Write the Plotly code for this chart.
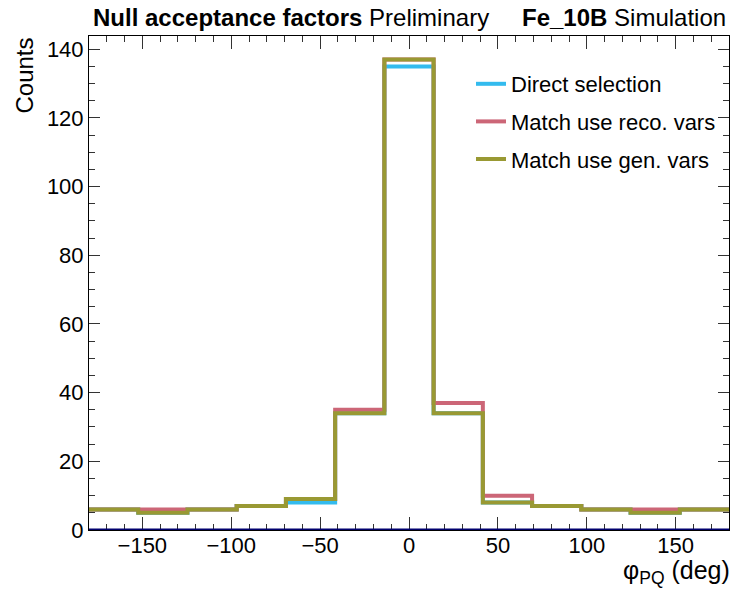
import numpy as np
import plotly.graph_objects as go

# ---- data ----
bin_edges = list(np.linspace(-180, 180, 14))
direct_sel = [6, 5, 6, 7, 8, 34, 135, 34, 8, 7, 6, 5, 6]
match_reco = [6, 6, 6, 7, 9, 35, 137, 37, 10, 7, 6, 6, 6]
match_gen = [6, 5, 6, 7, 9, 34, 137, 34, 8, 7, 6, 5, 6]
series_names = ["Direct selection", "Match use reco. vars", "Match use gen. vars"]
series_colors = ["#33BBEE", "#CC6677", "#999933"]

FONT = "Liberation Sans, Arial, Helvetica, sans-serif"

fig = go.Figure()
for name, vals, col in zip(series_names, [direct_sel, match_reco, match_gen], series_colors):
    fig.add_trace(go.Scatter(
        x=bin_edges, y=list(vals) + [vals[-1]],
        mode="lines", line=dict(color=col, width=4, shape="hv"),
        name=name, legendgroup=name,
    ))

# navy line at y=0
fig.add_shape(type="line", xref="x", yref="y", x0=-180, x1=180, y0=0, y1=0,
              line=dict(color="#00006e", width=3), layer="above")

axis_common = dict(
    showline=True, linecolor="black", linewidth=1, mirror="ticks",
    ticks="inside", tickcolor="#333333", tickwidth=1,
    showgrid=False, zeroline=False,
    tickfont=dict(family=FONT, size=22, color="black"),
)
fig.update_xaxes(range=[-180, 180], dtick=50, tick0=0, ticklen=13, ticklabelstandoff=-4,
                 minor=dict(ticks="inside", dtick=10, tick0=0, ticklen=6, tickcolor="#333333", showgrid=False),
                 **axis_common)
fig.update_yaxes(range=[0, 143.85], dtick=20, tick0=0, ticklen=11,
                 minor=dict(ticks="inside", dtick=5, tick0=0, ticklen=6, tickcolor="#333333", showgrid=False),
                 **axis_common)

annotations = [
    dict(text="<b>Null acceptance factors</b> Preliminary", xref="paper", yref="paper",
         x=(91 - 89) / 640, y=1, xanchor="left", yanchor="bottom", yshift=3, showarrow=False,
         font=dict(family=FONT, size=24, color="black")),
    dict(text="<b>Fe_10B</b> Simulation", xref="paper", yref="paper",
         x=(728 - 89) / 640, y=1, xanchor="right", yanchor="bottom", yshift=3, showarrow=False,
         font=dict(family=FONT, size=24, color="black")),
    dict(text="Counts", xref="paper", yref="paper", textangle=-90,
         x=0, xshift=-(89 - 8), xanchor="left", y=1, yanchor="top", showarrow=False,
         font=dict(family=FONT, size=24, color="black")),
    dict(text="φ<sub>PQ</sub> (deg)", xref="paper", yref="paper", borderpad=0,
         x=(731 - 89) / 640, y=0, xanchor="right", yanchor="bottom", yshift=-59, showarrow=False,
         font=dict(family=FONT, size=25, color="black")),
]

fig.update_layout(
    width=733, height=589,
    margin=dict(l=89, r=4, t=36, b=59),
    paper_bgcolor="white", plot_bgcolor="white",
    showlegend=True,
    legend=dict(x=(471 - 89) / 640, y=(530 - 63) / 494, xanchor="left", yanchor="top",
                bgcolor="rgba(0,0,0,0)", borderwidth=0, tracegroupgap=6,
                font=dict(family=FONT, size=22, color="black")),
    annotations=annotations,
)

fig.write_html("out.html")
